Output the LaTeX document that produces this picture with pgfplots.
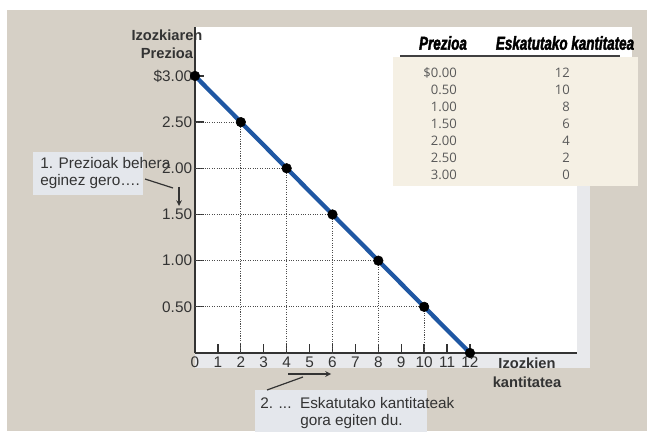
\documentclass[border=0pt]{standalone}
\usepackage{pgfplots}
\pgfplotsset{compat=1.18}
\usepackage{fontspec}
\setmainfont{Liberation Sans}
\newfontfamily\tabfont{Open Sans}
\newfontfamily\headfont[FakeStretch=0.72, FakeBold=2]{Liberation Sans}
\definecolor{beige}{HTML}{D6D0C6}
\definecolor{shadow}{HTML}{E8E9EC}
\definecolor{cream}{HTML}{F5F0E4}
\definecolor{notebox}{HTML}{E4E7EC}
\definecolor{demandblue}{HTML}{1F57A3}
\definecolor{txt}{HTML}{333333}
\begin{document}
\begin{tikzpicture}[x=0.75pt,y=0.75pt]
% page and backgrounds
\fill[white] (0,0) rectangle (647,436);
\fill[beige] (7,5) rectangle (647,426);
\fill[shadow] (195,68) rectangle (590,409);
\fill[white] (195,83) rectangle (577,409);
% table
\fill[white] (393,379) rectangle (632,409);
\fill[cream] (393,250) rectangle (638,379);
\draw[black!75, line width=0.9pt] (400,380) -- (620,380);
\node[font=\headfont\fontsize{14}{16}\selectfont\bfseries\itshape] at (443,393) {Prezioa};
\node[font=\headfont\fontsize{14}{16}\selectfont\bfseries\itshape] at (565,393) {Eskatutako kantitatea};
\foreach \p/\q/\yy in {\$0.00/12/363, 0.50/10/346, 1.00/8/329, 1.50/6/312, 2.00/4/295, 2.50/2/278, 3.00/0/261}{
  \node[anchor=east, font=\tabfont\fontsize{9.8}{11}\selectfont, text=black!65, inner sep=0pt] at (457,\yy) {\p};
  \node[anchor=east, font=\tabfont\fontsize{9.8}{11}\selectfont, text=black!65, inner sep=0pt] at (570,\yy) {\q};
}
% axis
\begin{axis}[
  at={(146.25pt,62.25pt)}, anchor=south west,
  scale only axis, width=286.5pt, height=244.5pt,
  xmin=0, xmax=16.67, ymin=0, ymax=3.53,
  axis x line=bottom, axis y line=left,
  axis line style={-, draw=txt, line width=1.4pt},
  xtick={0,1,...,12},
  ytick={0.5,1,1.5,2,2.5,3},
  yticklabels={0.50,1.00,1.50,2.00,2.50,\$3.00},
  tick align=inside,
  major tick length=6.5pt,
  tick style={draw=txt, line width=1pt},
  /pgf/number format/assume math mode=true,
  ticklabel style={font=\fontsize{11.5}{13}\selectfont, text=txt},
  xticklabel style={inner sep=3pt},
  yticklabel style={inner sep=2pt},
  clip=false,
]
\addplot[densely dotted, black!70, line width=0.8pt] coordinates {(0,2.5) (2,2.5) (2,0)};
\addplot[densely dotted, black!70, line width=0.8pt] coordinates {(0,2) (4,2) (4,0)};
\addplot[densely dotted, black!70, line width=0.8pt] coordinates {(0,1.5) (6,1.5) (6,0)};
\addplot[densely dotted, black!70, line width=0.8pt] coordinates {(0,1) (8,1) (8,0)};
\addplot[densely dotted, black!70, line width=0.8pt] coordinates {(0,0.5) (10,0.5) (10,0)};
\addplot[demandblue, line width=3.2pt] coordinates {(0,3) (2,2.5) (4,2) (6,1.5) (8,1) (10,0.5) (12,0)};
\addplot[only marks, mark=*, mark size=3.6pt, black] coordinates {(0,3) (2,2.5) (4,2) (6,1.5) (8,1) (10,0.5) (12,0)};
\end{axis}
% axis titles
\node[font=\fontsize{11}{13}\selectfont\bfseries, text=txt] at (167,401) {Izozkiaren};
\node[font=\fontsize{11}{13}\selectfont\bfseries, text=txt] at (167,383) {Prezioa};
\node[font=\fontsize{11}{13}\selectfont\bfseries, text=txt] at (527,73) {Izozkien};
\node[font=\fontsize{11}{13}\selectfont\bfseries, text=txt] at (527,54) {kantitatea};
% note 1
\fill[notebox] (33,241) rectangle (143,284);
\node[anchor=west, font=\fontsize{11.5}{13}\selectfont, text=txt, inner sep=0pt] at (40,273) {1. Prezioak behera};
\node[anchor=west, font=\fontsize{11.5}{13}\selectfont, text=txt, inner sep=0pt] at (40,254) {eginez gero….};
\draw[txt, line width=0.9pt] (145,257) -- (173,248);
\draw[txt, line width=0.9pt, -stealth] (179,249) -- (179,230);
% note 2
\fill[notebox] (255,4) rectangle (427,46);
\node[anchor=west, font=\fontsize{11.5}{13}\selectfont, text=txt, inner sep=0pt] at (260,33) {2. ...\ \ Eskatutako kantitateak};
\node[anchor=west, font=\fontsize{11.5}{13}\selectfont, text=txt, inner sep=0pt] at (300,14) {gora egiten du.};
\draw[txt, line width=0.9pt] (267,46) -- (303,59);
\draw[txt, line width=0.9pt, -stealth] (288,62) -- (331,62);
\end{tikzpicture}
\end{document}
